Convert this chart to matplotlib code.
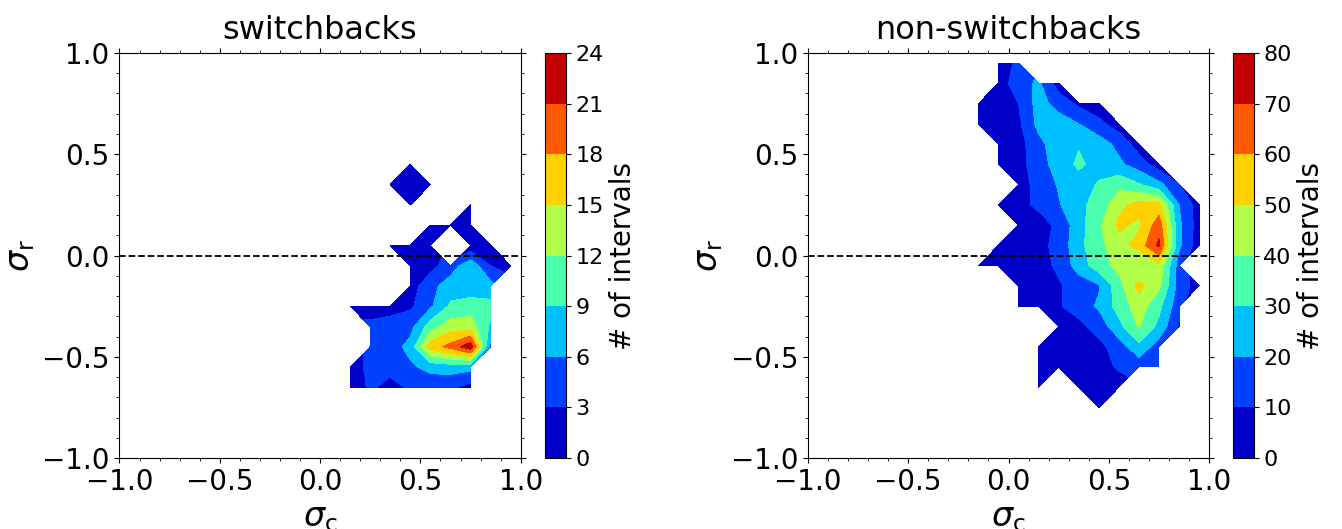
import numpy as np
import matplotlib.pyplot as plt
from matplotlib.ticker import AutoMinorLocator

nan = np.nan

# bin centres and counts (nan = no intervals), switchbacks
sigma_c_sb = [0.15, 0.25, 0.35, 0.45, 0.55, 0.65, 0.75, 0.85, 0.95]
sigma_r_sb = [0.45, 0.35, 0.25, 0.15, 0.05, -0.05, -0.15, -0.25, -0.35, -0.45, -0.55, -0.65]
counts_sb = [
    [nan, nan, nan, 1, nan, nan, nan, nan, nan],
    [nan, nan, 1, 1.5, 1, nan, nan, nan, nan],
    [nan, nan, nan, 1, nan, nan, 1, nan, nan],
    [nan, nan, nan, nan, 1, 1, 1, nan, nan],
    [nan, nan, 1, 1, 1, nan, 1, 1, nan],
    [nan, nan, nan, 1, 2, 4.5, 8, 3, 1],
    [nan, nan, nan, 1.5, 5, 7.5, 7, 7, nan],
    [1, 1, 2, 2.5, 5.5, 9.5, 10.5, 10, nan],
    [nan, 4, 4, 5, 10.5, 13.5, 13.5, 8.5, nan],
    [nan, 4, 4.5, 7, 16.5, 19, 23, 5, nan],
    [1, 4, 4, 5.5, 7, 7.5, 7, nan, nan],
    [1, 3.5, 2, 3.5, 4, 3.5, 2, nan, nan],
]

# non-switchbacks
sigma_c_nsb = [-0.15, -0.05, 0.05, 0.15, 0.25, 0.35, 0.45, 0.55, 0.65, 0.75, 0.85, 0.95]
sigma_r_nsb = [0.95, 0.85, 0.75, 0.65, 0.55, 0.45, 0.35, 0.25, 0.15, 0.05,
               -0.05, -0.15, -0.25, -0.35, -0.45, -0.55, -0.65, -0.75]
counts_nsb = [
    [nan, 5, 12, nan, nan, nan, nan, nan, nan, nan, nan, nan],
    [nan, 5, 15, 22, 5, nan, nan, nan, nan, nan, nan, nan],
    [3, 5, 10, 24, 16, 8, 3, nan, nan, nan, nan, nan],
    [3, 5, 8, 23, 25, 20, 13, 5, nan, nan, nan, nan],
    [nan, 4, 6, 17, 26, 29, 25, 17, 5, nan, nan, nan],
    [nan, 4, 6, 16, 24, 32, 26, 22, 15, 5, nan, nan],
    [nan, nan, 6, 13, 21, 25, 31, 37, 31, 23, 11, nan],
    [nan, 3, 7, 12, 19, 28, 33, 47, 54, 53, 20, 5],
    [nan, nan, 5, 6, 12, 26, 38, 52, 48, 66, 22, 5],
    [nan, 3, 5, 7, 13, 27, 37, 46, 54, 72, 22, 4],
    [2, 4, 6, 7, 11.5, 25, 35, 43, 39, 48, 15, nan],
    [nan, nan, 4, 6, 9, 14, 19, 36, 53, 42, 16, 5],
    [nan, nan, 2, 5, 9, 15, 21.5, 34, 45, 33, 13, nan],
    [nan, nan, nan, nan, 5, 7, 14, 27, 41, 27, 9, nan],
    [nan, nan, nan, 2, 4, 6, 7, 15, 27, 15, nan, nan],
    [nan, nan, nan, 2, 3, 5, 7, 11, 14, 11, nan, nan],
    [nan, nan, nan, 2, nan, 3, 5, 6, nan, nan, nan, nan],
    [nan, nan, nan, nan, nan, nan, 2, nan, nan, nan, nan, nan],
]

levels_sb = np.arange(0, 25, 3)
levels_nsb = np.arange(0, 81, 10)
titles = ['switchbacks', 'non-switchbacks']

fig = plt.figure(figsize=(13.42, 5.29), dpi=100)
ax_pos = [[0.089, 0.134, 0.299, 0.766], [0.602, 0.134, 0.299, 0.766]]
cb_pos = [[0.406, 0.134, 0.0155, 0.766], [0.9186, 0.134, 0.0155, 0.766]]

panels = [(sigma_c_sb, sigma_r_sb, counts_sb, levels_sb),
          (sigma_c_nsb, sigma_r_nsb, counts_nsb, levels_nsb)]

for i, (xc, yc, cnt, lev) in enumerate(panels):
    ax = fig.add_axes(ax_pos[i])
    cax = fig.add_axes(cb_pos[i])
    z = np.ma.masked_invalid(np.array(cnt, dtype=float)[::-1])
    cs = ax.contourf(xc, yc[::-1], z, levels=lev, cmap='jet')
    ax.axhline(0, color='k', ls='--', lw=1.3)
    ax.set_xlim(-1, 1)
    ax.set_ylim(-1, 1)
    ax.set_xticks([-1, -0.5, 0, 0.5, 1])
    ax.set_yticks([-1, -0.5, 0, 0.5, 1])
    ax.xaxis.set_minor_locator(AutoMinorLocator(5))
    ax.yaxis.set_minor_locator(AutoMinorLocator(5))
    ax.tick_params(which='both', top=True, right=True, direction='out', labelsize=20)
    ax.set_xlabel(r'$\sigma_\mathrm{c}$', fontsize=24)
    ax.set_ylabel(r'$\sigma_\mathrm{r}$', fontsize=24)
    ax.set_title(titles[i], fontsize=23, pad=10)
    cb = fig.colorbar(cs, cax=cax, ticks=lev)
    cb.ax.tick_params(labelsize=16)
    cb.set_label('# of intervals', fontsize=20)

plt.savefig('out.png', dpi=100)
